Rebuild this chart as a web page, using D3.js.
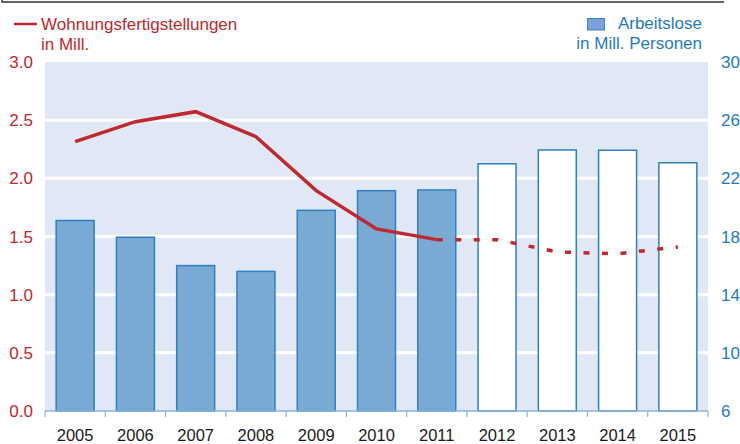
<!DOCTYPE html>
<html>
<head>
<meta charset="utf-8">
<script src="https://cdn.jsdelivr.net/npm/d3@7"></script>
<style>
  body { margin: 0; background: #fff; }
  svg { display: block; font-family: "Liberation Sans", Arial, sans-serif; }
</style>
</head>
<body>
<div id="viz"></div>
<script>
// chart data
var years = ["2005", "2006", "2007", "2008", "2009", "2010", "2011", "2012", "2013", "2014", "2015"];
var arbeitslose = [19.1, 17.95, 16.0, 15.6, 19.8, 21.15, 21.2, 23.0, 23.95, 23.93, 23.07];
var fertig = [2.315, 2.487, 2.573, 2.358, 1.894, 1.565, 1.473, 1.473, 1.367, 1.352, 1.41];
var forecastFrom = "2012";   // bars from here are drawn hollow
var leftTicks = [0, 0.5, 1.0, 1.5, 2.0, 2.5, 3.0];
var rightTicks = [6, 10, 14, 18, 22, 26, 30];

var red = "#c0282e", blue = "#1f7bc4";

var svg = d3.select("#viz").append("svg")
    .attr("width", 740)
    .attr("height", 444);

// top frame line
svg.append("path")
    .attr("d", "M2,0V2H724")
    .attr("fill", "none")
    .attr("stroke", "#333")
    .attr("stroke-width", 1.5);

// plot box (window.top is reserved, so use p* names)
var pLeft = 45, pRight = 708, pTop = 62, pBottom = 411;

var x = d3.scaleBand().domain(years).range([pLeft, pRight]).padding(0);
var yL = d3.scaleLinear().domain([0, 3]).range([pBottom, pTop]);
var yR = d3.scaleLinear().domain([6, 30]).range([pBottom, pTop]);

// plot background
svg.append("rect")
    .attr("x", pLeft).attr("y", pTop)
    .attr("width", pRight - pLeft).attr("height", pBottom - pTop)
    .attr("fill", "#e1e8f5");

// white gridlines
svg.append("g").selectAll("line")
    .data(leftTicks.filter(function(d) { return d > 0 && d < 3; }))
    .enter().append("line")
    .attr("x1", pLeft).attr("x2", pRight)
    .attr("y1", function(d) { return yL(d); })
    .attr("y2", function(d) { return yL(d); })
    .attr("stroke", "#fff")
    .attr("stroke-width", 3);

// bars
var bw = x.bandwidth() * 0.63;
svg.append("g").selectAll("rect")
    .data(years)
    .enter().append("rect")
    .attr("x", function(d) { return x(d) + (x.bandwidth() - bw) / 2; })
    .attr("y", function(d, i) { return yR(arbeitslose[i]); })
    .attr("width", bw)
    .attr("height", function(d, i) { return yR(6) - yR(arbeitslose[i]); })
    .attr("fill", function(d) { return d >= forecastFrom ? "#fff" : "#78aad4"; })
    .attr("stroke", "#2d80c4")
    .attr("stroke-width", 1.5);

// x axis
var xAxis = svg.append("g").attr("transform", "translate(0," + pBottom + ")");
xAxis.append("line")
    .attr("x1", pLeft).attr("x2", pRight)
    .attr("stroke", "#8fb2de").attr("stroke-width", 1.5);
xAxis.selectAll(".tk")
    .data(years.concat(["end"]))
    .enter().append("line")
    .attr("x1", function(d) { return d == "end" ? pRight : x(d); })
    .attr("x2", function(d) { return d == "end" ? pRight : x(d); })
    .attr("y1", 0).attr("y2", 6)
    .attr("stroke", "#8fb2de").attr("stroke-width", 1.2);
xAxis.selectAll("text")
    .data(years)
    .enter().append("text")
    .attr("x", function(d) { return x(d) + x.bandwidth() / 2; })
    .attr("y", 30)
    .attr("text-anchor", "middle")
    .attr("font-size", 16.5)
    .attr("fill", "#1a1a1a")
    .text(function(d) { return d; });

// left axis labels
svg.append("g").selectAll("text")
    .data(leftTicks)
    .enter().append("text")
    .attr("x", 33)
    .attr("y", function(d) { return yL(d) + 6; })
    .attr("text-anchor", "end")
    .attr("font-size", 17)
    .attr("fill", red)
    .text(function(d) { return d3.format(".1f")(d); });

// right axis labels
svg.append("g").selectAll("text")
    .data(rightTicks)
    .enter().append("text")
    .attr("x", 721)
    .attr("y", function(d) { return yR(d) + 6; })
    .attr("font-size", 17)
    .attr("fill", blue)
    .text(function(d) { return d; });

// line: actual (solid) and forecast (dashed)
var pts = years.map(function(d, i) { return [x(d) + x.bandwidth() / 2, yL(fertig[i])]; });
var split = years.indexOf("2011");
var line = d3.line();

svg.append("path")
    .attr("d", line(pts.slice(0, split + 1)))
    .attr("fill", "none")
    .attr("stroke", red)
    .attr("stroke-width", 3.5);

svg.append("path")
    .attr("d", line(pts.slice(split)))
    .attr("fill", "none")
    .attr("stroke", red)
    .attr("stroke-width", 3.5)
    .attr("stroke-dasharray", "6,12.5");

// legends
svg.append("line")
    .attr("x1", 14).attr("x2", 37)
    .attr("y1", 24).attr("y2", 24)
    .attr("stroke", red).attr("stroke-width", 2.5);
var lt = svg.append("text").attr("font-size", 17).attr("fill", red);
lt.append("tspan").attr("x", 41).attr("y", 30).text("Wohnungsfertigstellungen");
lt.append("tspan").attr("x", 41).attr("y", 50).text("in Mill.");

svg.append("rect")
    .attr("x", 587.5).attr("y", 18.5)
    .attr("width", 17).attr("height", 11.5)
    .attr("fill", "#7ba2d6")
    .attr("stroke", "#3d84c6").attr("stroke-width", 1);
var rt = svg.append("text").attr("font-size", 17).attr("fill", blue).attr("text-anchor", "end");
rt.append("tspan").attr("x", 702).attr("y", 29).text("Arbeitslose");
rt.append("tspan").attr("x", 702).attr("y", 48.5).text("in Mill. Personen");
</script>
</body>
</html>
